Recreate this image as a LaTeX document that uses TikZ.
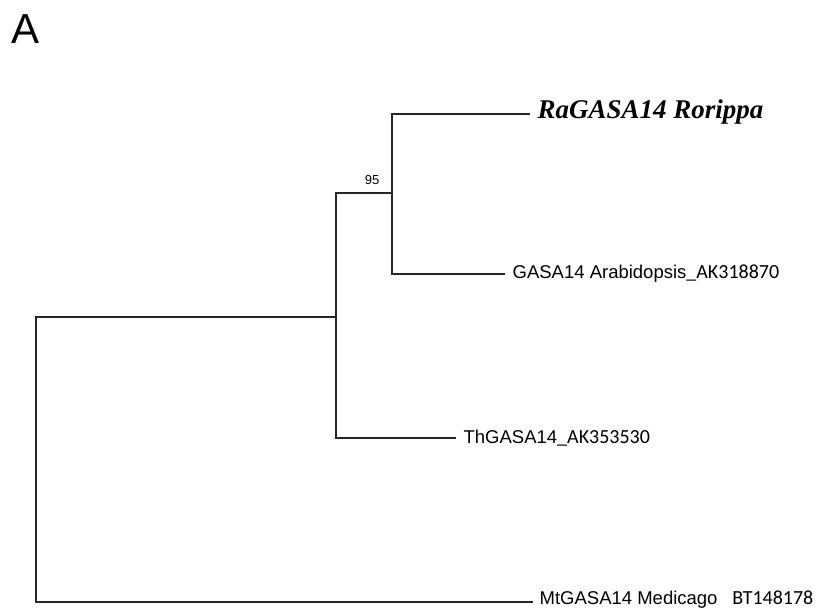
\documentclass[tikz,border=0pt]{standalone}
\usepackage{fontspec}
\setmainfont{Liberation Sans}
\newfontfamily\accfont{Carlito}
\newfontfamily\serifbi{Liberation Serif}
\usetikzlibrary{positioning}

\begin{document}
\begin{tikzpicture}[x=1pt, y=-1pt, line width=1.3pt,
    branch/.style={draw=black!85},
    leaf/.style={anchor=west, inner ysep=0pt, inner xsep=7pt, font=\fontsize{18.5}{20}\selectfont},
    acc/.style={font=\accfont\fontsize{19}{20}\selectfont}]
    \useasboundingbox (0,0) rectangle (823,610);

    % panel letter
    \node [anchor=north west, inner sep=0pt, font=\fontsize{42}{44}\selectfont] (panel) at (11,14) {A};

    % internal nodes
    \coordinate (root) at (36,317);
    \coordinate (clade) at (336,317);
    \coordinate (sub) at (392,193);

    % leaves
    \node [leaf, font=\serifbi\bfseries\itshape\fontsize{27}{28}\selectfont] (ra) at (530,112) {RaGASA14 Rorippa};
    \node [leaf] (at) at (505,274) {GASA14 Arabidopsis{\accfont\fontsize{20}{20}\selectfont\_AK318870}};
    \node [leaf] (th) at (456,438) {ThGASA14{\accfont\fontsize{20}{20}\selectfont\_AK353530}};
    \node [leaf, inner xsep=6pt, text depth=9pt] (mt) at (533,602) {MtGASA14 Medicago\hspace{0.8em}{\accfont\fontsize{20}{20}\selectfont BT148178}};

    % bootstrap value
    \node [font=\fontsize{13}{14}\selectfont, anchor=south] (boot) at (372,189) {95};

    % branches
    \draw [branch] (ra.west |- 0,114) -| (sub) |- (at.west);
    \draw [branch] (sub) -| (clade) |- (th.west);
    \draw [branch] (clade) -- (root) |- (mt.west);
\end{tikzpicture}
\end{document}
